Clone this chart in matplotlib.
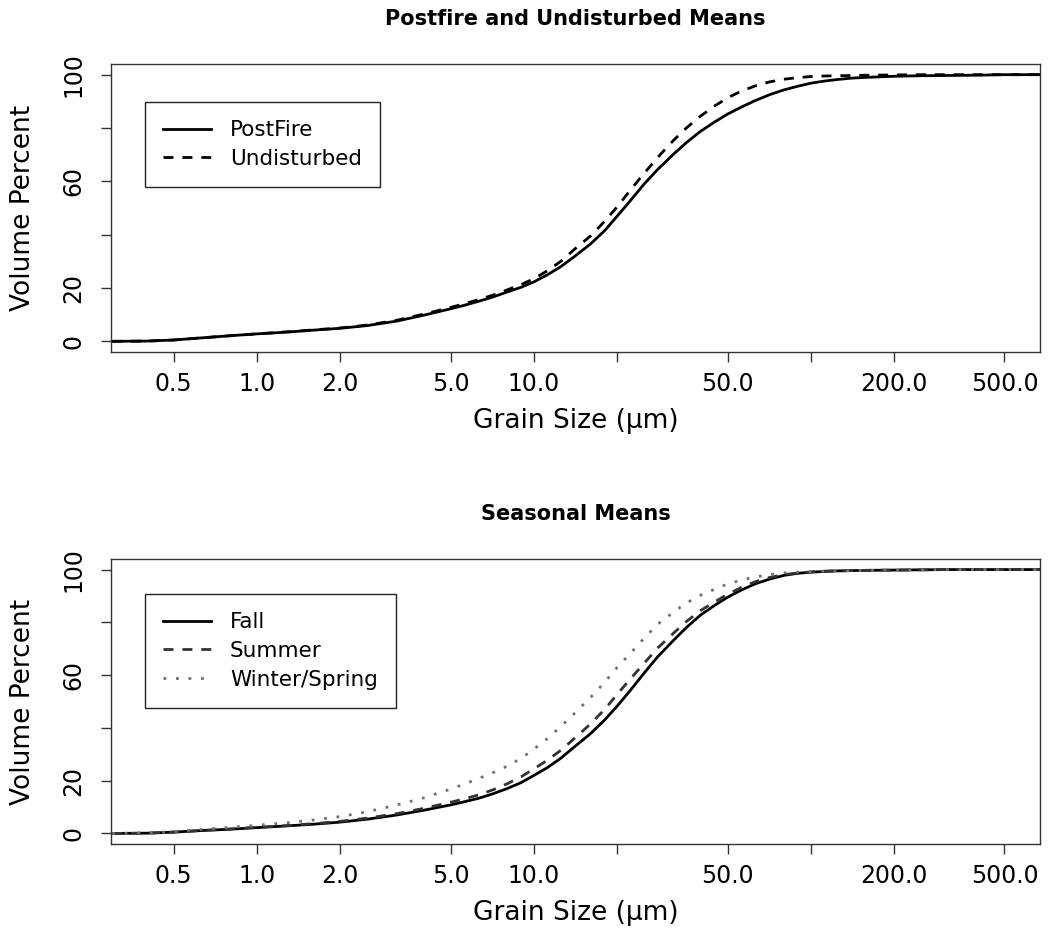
import numpy as np
import matplotlib
matplotlib.use("Agg")
import matplotlib.pyplot as plt

plt.rcParams['font.family'] = ['DejaVu Sans']

# grain sizes (um) the curves were read at
grain = [0.3, 0.4, 0.5, 0.63, 0.8, 1.0, 1.3, 1.6, 2.0, 2.5, 3.2, 4.0,
         5.0, 5.6, 6.3, 7.1, 8.0, 9.0, 10, 11.2, 12.5, 14, 16, 18, 20, 22.4, 25, 28,
         32, 35.5, 40, 45, 50, 56, 63, 71, 80, 90, 100, 112, 125, 140, 160,
         200, 250, 315, 400, 500, 672]

# top panel: cumulative volume percent
postfire = [0, 0.1, 0.5, 1.3, 2.1, 2.8, 3.5, 4.2, 4.9, 5.9, 7.6, 9.8,
            12.2, 13.5, 15.0, 16.6, 18.5, 20.3, 22.3, 25.0, 28.0, 31.8, 36.5, 41.5, 47.0,
            53.0, 59.0, 64.5, 70.3, 74.5, 78.8, 82.3, 85.2, 87.8, 90.3, 92.5, 94.3, 95.7,
            96.8, 97.6, 98.2, 98.7, 99.0,
            99.4, 99.6, 99.7, 99.8, 100, 100]
undisturbed = [0, 0.1, 0.5, 1.3, 2.1, 2.8, 3.6, 4.3, 5.0, 6.1, 7.9, 10.2,
               12.7, 14.1, 15.6, 17.3, 19.3, 21.3, 23.5, 26.5, 30.0, 34.5, 39.5, 45.0, 50.5,
               57.0, 63.0, 69.0, 75.5, 80.0, 84.5, 88.3, 91.3, 93.8, 95.8, 97.3, 98.3, 98.9,
               99.3, 99.5, 99.6, 99.7, 99.8,
               99.9, 100, 100, 100, 100, 100]

# bottom panel: seasonal means
fall = [0, 0.1, 0.5, 1.1, 1.6, 2.2, 2.9, 3.5, 4.3, 5.4, 7.0, 8.8,
        10.8, 12.0, 13.3, 15.0, 17.0, 19.3, 22.0, 25.0, 28.5, 32.8, 37.8, 43.0, 48.3,
        54.5, 60.8, 67.0, 73.3, 78.0, 82.8, 86.5, 89.5, 92.2, 94.6, 96.4, 97.8, 98.6,
        99.0, 99.3, 99.5, 99.6, 99.7,
        99.8, 99.9, 100, 100, 100, 100]
summer = [0, 0.1, 0.5, 1.1, 1.7, 2.3, 3.0, 3.7, 4.6, 5.8, 7.5, 9.5,
          11.8, 13.1, 14.6, 16.5, 18.8, 21.5, 24.5, 27.8, 31.5, 36.0, 41.5, 47.0, 52.8,
          58.8, 64.5, 70.3, 76.0, 80.3, 84.5, 87.8, 90.6, 93.2, 95.4, 97.0, 98.1, 98.7,
          99.1, 99.4, 99.5, 99.6, 99.7,
          99.8, 99.9, 100, 100, 100, 100]
winter_spring = [0, 0.2, 0.7, 1.5, 2.3, 3.1, 4.1, 5.1, 6.4, 8.2, 10.8, 13.5,
                 16.8, 18.7, 20.8, 23.0, 25.5, 28.5, 32.0, 36.0, 40.5, 45.5, 51.5, 57.3, 63.0,
                 68.5, 74.0, 79.3, 84.0, 87.3, 90.3, 92.6, 94.5, 96.0, 97.2, 98.1, 98.7, 99.0,
                 99.2, 99.4, 99.5, 99.6, 99.7,
                 99.8, 99.9, 100, 100, 100, 100]

xticks = [0.5, 1, 2, 5, 10, 20, 50, 100, 200, 500]
xticklabels = ['0.5', '1.0', '2.0', '5.0', '10.0', '', '50.0', '', '200.0', '500.0']
yticks = [0, 20, 40, 60, 80, 100]
yticklabels = ['0', '20', '', '60', '', '100']

LW = 2.0
DASH = (0, (3.6, 3.2))
DOT = (0, (1.0, 3.5))


def style_axes(ax, title):
    ax.set_xscale('log')
    ax.set_xlim(0.297, 672)
    ax.set_ylim(-4, 104)
    ax.set_xticks(xticks)
    ax.set_xticklabels(xticklabels)
    ax.xaxis.set_minor_locator(matplotlib.ticker.NullLocator())
    ax.set_yticks(yticks)
    ax.set_yticklabels(yticklabels)
    ax.tick_params(axis='both', direction='out', length=7.5, width=1.0,
                   color='#333333', labelsize=17)
    ax.tick_params(axis='x', pad=7)
    ax.tick_params(axis='y', pad=11, labelrotation=90)
    for lab in ax.get_yticklabels():
        lab.set_va('center')
    for sp in ax.spines.values():
        sp.set_linewidth(1.0)
        sp.set_color('#333333')
    h = ax.get_position().height * 940
    ax.text(0.5, 1 + 45.0 / h, title, transform=ax.transAxes, ha='center',
            va='center', fontsize=15, fontweight='bold')
    ax.set_xlabel('Grain Size (\u03bcm)', fontsize=19)
    ax.xaxis.set_label_coords(0.5, -69.0 / h)
    ax.xaxis.label.set_va('center')
    ax.set_ylabel('Volume Percent', fontsize=19)
    ax.yaxis.set_label_coords(-0.0947, 0.5)
    ax.yaxis.label.set_va('center')


fig = plt.figure(figsize=(10.54, 9.4), dpi=100)
ax1 = fig.add_axes([111 / 1054, 1 - 352 / 940, 929 / 1054, 288 / 940])
ax2 = fig.add_axes([111 / 1054, 1 - 844 / 940, 929 / 1054, 285 / 940])

kw = dict(lw=LW, solid_joinstyle='round', dash_joinstyle='round')
ax1.plot(grain, postfire, color='black', label='PostFire', **kw)
ax1.plot(grain, undisturbed, color='black', ls=DASH, label='Undisturbed', **kw)
style_axes(ax1, 'Postfire and Undisturbed Means')

ax2.plot(grain, fall, color='black', label='Fall', **kw)
ax2.plot(grain, summer, color='#333333', ls=DASH, label='Summer', **kw)
ax2.plot(grain, winter_spring, color='#707070', ls=DOT, label='Winter/Spring', **kw)
style_axes(ax2, 'Seasonal Means')

for ax, top in [(ax1, (352 - 102) / 288.0), (ax2, (844 - 594) / 285.0)]:
    leg = ax.legend(loc='upper left', bbox_to_anchor=(34 / 929.0, top),
                    borderaxespad=0, fontsize=15.5, fancybox=False,
                    edgecolor='#222222', framealpha=1, handlelength=2.2,
                    handletextpad=0.9, borderpad=0.85, labelspacing=0.4)
    leg.get_frame().set_linewidth(1.0)

fig.savefig('out.png', dpi=100)
